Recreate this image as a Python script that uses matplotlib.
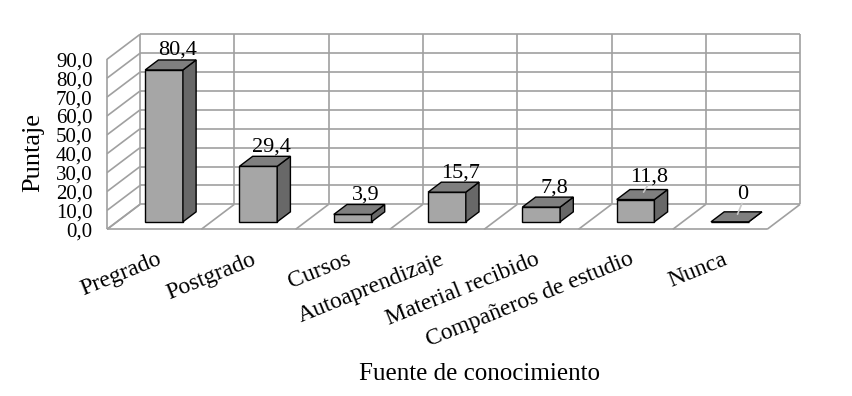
import matplotlib.pyplot as plt

# data
categories = ["Pregrado", "Postgrado", "Cursos", "Autoaprendizaje",
              "Material recibido", "Compañeros de estudio", "Nunca"]
values = [80.4, 29.4, 3.9, 15.7, 7.8, 11.8, 0]
y_ticks = [0, 10, 20, 30, 40, 50, 60, 70, 80, 90]

# oblique "3D" look: depth offset in data units
DX = 0.35   # category units shifted right going back
DY = 13.2   # value units shifted up going back
FRONT, TOP, SIDE = "#a6a6a6", "#7f7f7f", "#686868"
GRID = "#a0a0a0"

plt.rcParams["font.family"] = ["Liberation Serif", "DejaVu Serif"]

W, H = 853, 396
fig = plt.figure(figsize=(W / 100, H / 100), dpi=100)

# pixel geometry of the front floor
px_cat, px_val = 94.3, 1.889
x0_px, y0_px = 107, H - 229.3
xlim = (-0.05, 7.45)
ylim = (-3, 106)
ax = fig.add_axes([
    (x0_px + xlim[0] * px_cat) / W,
    (y0_px + ylim[0] * px_val) / H,
    (xlim[1] - xlim[0]) * px_cat / W,
    (ylim[1] - ylim[0]) * px_val / H,
])
ax.set_xlim(*xlim)
ax.set_ylim(*ylim)
for s in ax.spines.values():
    s.set_visible(False)
ax.set_xticks([])


def proj(x, y, z):
    return x + z * DX, y + z * DY


def seg(p, q, **kw):
    ax.plot([p[0], q[0]], [p[1], q[1]], color=GRID, lw=1.2, zorder=1,
            solid_capstyle="butt", **kw)


n = len(categories)
top = y_ticks[-1]
# back wall
for v in y_ticks:
    seg(proj(0, v, 1), proj(n, v, 1))
for c in range(n + 1):
    seg(proj(c, 0, 1), proj(c, top, 1))
# left wall
for v in y_ticks:
    seg(proj(0, v, 0), proj(0, v, 1))
seg(proj(0, 0, 0), proj(0, top, 0))
# floor
seg(proj(0, 0, 0), proj(n, 0, 0))
for c in range(n + 1):
    seg(proj(c, 0, 0), proj(c, 0, 1))

# bars
z0, z1 = 0.3, 0.7
for i, v in enumerate(values):
    xa, xb = i + 0.3, i + 0.7
    faces = [
        ([(xa, 0, z0), (xb, 0, z0), (xb, v, z0), (xa, v, z0)], FRONT),
        ([(xb, 0, z0), (xb, 0, z1), (xb, v, z1), (xb, v, z0)], SIDE),
        ([(xa, v, z0), (xb, v, z0), (xb, v, z1), (xa, v, z1)], TOP),
    ]
    for pts, col in faces:
        xy = [proj(*p) for p in pts]
        ax.add_patch(plt.Polygon(xy, closed=True, facecolor=col,
                                 edgecolor="black", lw=1.0, zorder=3,
                                 joinstyle="miter"))

# value labels
lift = [0, 0, 0, 0, 0, 3, 8]
for i, v in enumerate(values):
    txt = "0" if v == 0 else f"{v:.1f}".replace(".", ",")
    bx, by = proj(i + 0.5, v, z1)
    if lift[i]:
        cx, cy = proj(i + 0.5, v, 0.5)
        ax.annotate("", xy=(cx, cy), xytext=(bx, by + (lift[i] + 3) / px_val),
                    arrowprops=dict(arrowstyle="-", color="#c8c8c8", lw=1.2),
                    zorder=4)
    ax.annotate(txt, (bx, by), xytext=(0, lift[i] * 0.72),
                textcoords="offset points", ha="center", va="bottom",
                fontsize=16, zorder=5)

# category labels
for i, name in enumerate(categories):
    ax.annotate(name, (i + 0.5, 0), xytext=(2, -14),
                textcoords="offset points", ha="right", va="top",
                rotation=22, rotation_mode="anchor", fontsize=17)

ax.set_yticks(y_ticks)
ax.set_yticklabels([f"{t:.1f}".replace(".", ",") for t in y_ticks])
ax.tick_params(axis="y", length=0, pad=7, labelsize=15)

fig.text(33 / W, 1 - 152 / H, "Puntaje", rotation=90, ha="center",
         va="center", fontsize=19)
fig.text(480 / W, 1 - 374 / H, "Fuente de conocimiento", ha="center",
         va="center", fontsize=18)

fig.savefig("out.png", dpi=100)
